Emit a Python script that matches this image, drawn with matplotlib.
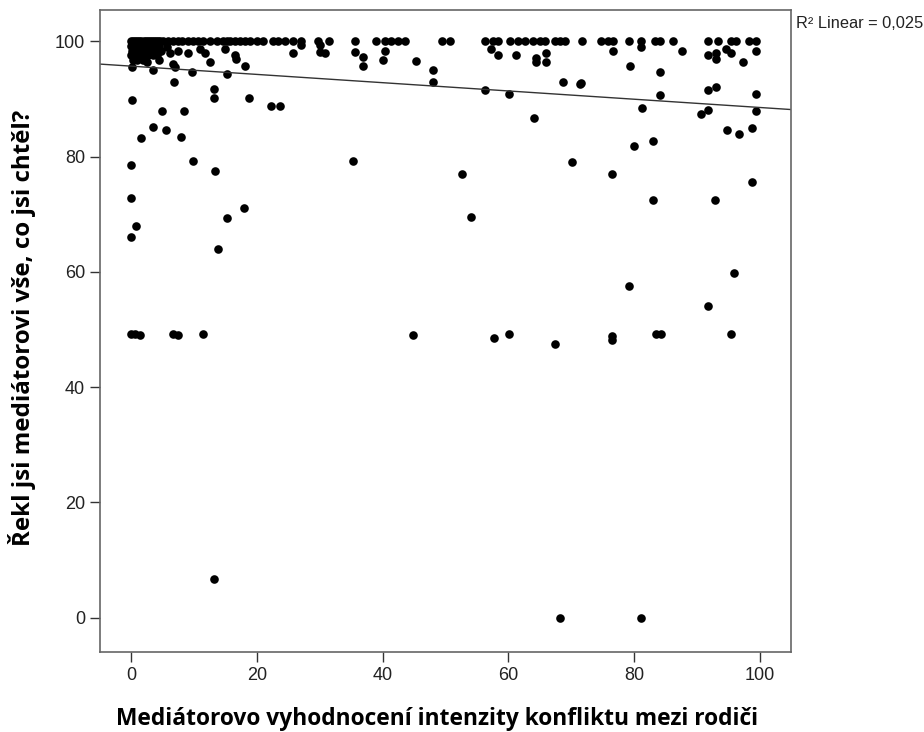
import numpy as np
import matplotlib.pyplot as plt

# points on the top row (answer = 100)
top_x = [0, 0.3, 0.6, 1, 1.3, 1.6, 2, 2.3, 2.6, 3, 3.3, 3.6, 4, 4.3, 4.6, 5,
         5.9, 6.7, 7.5, 8.1, 9.1, 9.9, 10.7, 11.5, 12.6, 13.6, 14.6, 15.2, 15.7,
         16.5, 17.3, 18.1, 18.9, 20.0, 21.0, 22.6, 23.4, 24.5, 25.8, 27.1, 29.8,
         31.4, 35.6, 39.0, 40.4, 41.4, 42.5, 43.6, 49.4, 50.7, 56.3, 57.6, 58.3,
         60.3, 61.6, 62.6, 64.0, 65.0, 65.8, 67.4, 68.2, 69.0, 71.7, 74.8, 75.9,
         76.7, 79.3, 81.2, 83.3, 84.1, 86.2, 91.8, 93.4, 95.5, 96.3, 98.4, 99.4]

# dense cluster near x = 0..5
clu_x = [0, 0.5, 1, 1.5, 2, 2.5, 3, 3.5, 4, 4.5,
         0.2, 0.8, 1.2, 1.8, 2.2, 2.8, 3.2, 3.8, 4.2, 4.8,
         0, 0.6, 1.4, 2.1, 2.7, 3.4, 4.1,
         0.3, 1.0, 1.9, 2.5, 4.4]
clu_y = [99.2, 99.2, 99.2, 99.2, 99.2, 99.2, 99.2, 99.2, 99.2, 99.2,
         98.4, 98.4, 98.4, 98.4, 98.4, 98.4, 98.4, 98.4, 98.4, 98.4,
         97.6, 97.6, 97.6, 97.6, 97.6, 97.6, 97.6,
         96.8, 96.8, 96.8, 96.5, 96.8]

other_x = [5.7, 6.2, 7.5, 9.1, 11.0, 11.8, 12.6, 14.9, 16.5, 18.1, 6.7, 7.0, 0.1,
           3.5, 9.6, 15.2, 16.7, 25.8, 27.1, 30.0, 30.0, 30.8, 35.6, 36.9, 36.9,
           40.4, 40.1, 45.4, 48.0, 48.0, 57.3, 58.4, 61.2, 64.5, 66.0, 64.4, 66.0,
           56.3, 60.1, 64.1, 68.8, 71.4, 76.7, 81.2, 87.6, 91.8, 93.1, 93.1, 94.7,
           95.5, 99.4, 79.4, 84.1, 97.4, 84.1, 91.8, 93.0, 99.4, 81.3, 90.7, 91.8,
           99.4, 94.9, 96.7, 98.8, 80.0, 83.1, 0.1, 4.9, 8.4, 3.5, 5.6, 1.5, 8.0,
           6.8, 13.2, 13.2, 18.7, 22.2, 23.7, 71.6]
other_y = [99.0, 97.9, 98.4, 97.9, 98.7, 97.9, 96.4, 98.7, 97.6, 95.8, 96.1, 95.5, 95.5,
           95.0, 94.7, 94.4, 97.0, 97.9, 99.3, 99.3, 98.1, 97.9, 98.1, 97.3, 95.8,
           98.4, 96.7, 96.6, 95.1, 92.9, 98.6, 97.7, 97.7, 97.1, 97.9, 96.4, 96.4,
           91.5, 90.9, 86.7, 92.9, 92.6, 98.4, 99.0, 98.4, 97.7, 97.9, 97.0, 98.7,
           97.9, 98.4, 95.7, 94.6, 96.4, 90.7, 91.5, 92.0, 90.8, 88.5, 87.4, 88.1,
           88.0, 84.7, 83.9, 85.0, 81.8, 82.7, 89.9, 88.0, 88.0, 85.2, 84.7, 83.2, 83.4,
           92.9, 91.7, 90.2, 90.2, 88.7, 88.7, 92.7]

low_x = [0, 9.8, 13.4, 0, 18.0, 15.3, 0.7, 0, 13.8, 35.3, 52.7, 54.1, 70.2, 76.5,
         83.1, 92.9, 98.8, 96.0, 79.3, 91.8,
         0, 0.6, 1.4, 6.7, 7.5, 11.4, 44.8, 57.7, 60.1, 67.4, 76.5, 76.5, 83.5,
         84.3, 95.4, 13.2, 68.2, 81.1]
low_y = [78.5, 79.2, 77.5, 72.8, 71.0, 69.3, 67.9, 66.0, 63.9, 79.2, 76.9, 69.5, 79.0,
         77.0, 72.4, 72.4, 75.6, 59.8, 57.5, 54.1,
         49.3, 49.3, 49.0, 49.3, 49.0, 49.3, 49.0, 48.6, 49.3, 47.4, 48.8, 48.1, 49.3,
         49.3, 49.3, 6.7, 0, 0]

# fitted line
fit_intercept = 95.7
fit_slope = -0.0717
r2_text = 'R² Linear = 0,025'

xs = np.array(top_x + clu_x + other_x + low_x)
ys = np.array([100] * len(top_x) + clu_y + other_y + low_y)

fig = plt.figure(figsize=(9.24, 7.32), dpi=100)
ax = fig.add_axes([0.108, 0.109, 0.748, 0.877])

ax.plot(xs, ys, 'o', color='black', markersize=6.2, mec='none')

grid = np.array([-5, 105])
ax.plot(grid, fit_intercept + fit_slope * grid, color='#333333', lw=1)

ax.set_xlim(-5, 105)
ax.set_ylim(-6, 105.4)
ax.set_xticks([0, 20, 40, 60, 80, 100])
ax.set_yticks([0, 20, 40, 60, 80, 100])
ax.tick_params(direction='out', length=7, width=1, colors='#333333',
               labelsize=13, labelcolor='#222222')
for lab in ax.get_xticklabels() + ax.get_yticklabels():
    lab.set_family('Liberation Sans')

for s in ax.spines.values():
    s.set_color('#666666')
    s.set_linewidth(1.2)

ax.set_xlabel('Mediátorovo vyhodnocení intenzity konfliktu mezi rodiči',
              fontsize=16.4, fontweight='bold', family='Open Sans')
ax.set_ylabel('Řekl jsi mediátorovi vše, co jsi chtěl?',
              fontsize=17.4, fontweight='bold', family='Open Sans')
ax.xaxis.set_label_coords(0.488, -0.086)
ax.yaxis.set_label_coords(-0.093, 0.506)

fig.text(0.861, 0.968, r2_text, fontsize=11.8, family='Liberation Sans',
         color='#222222', va='center')

plt.savefig('out.png', dpi=100)
